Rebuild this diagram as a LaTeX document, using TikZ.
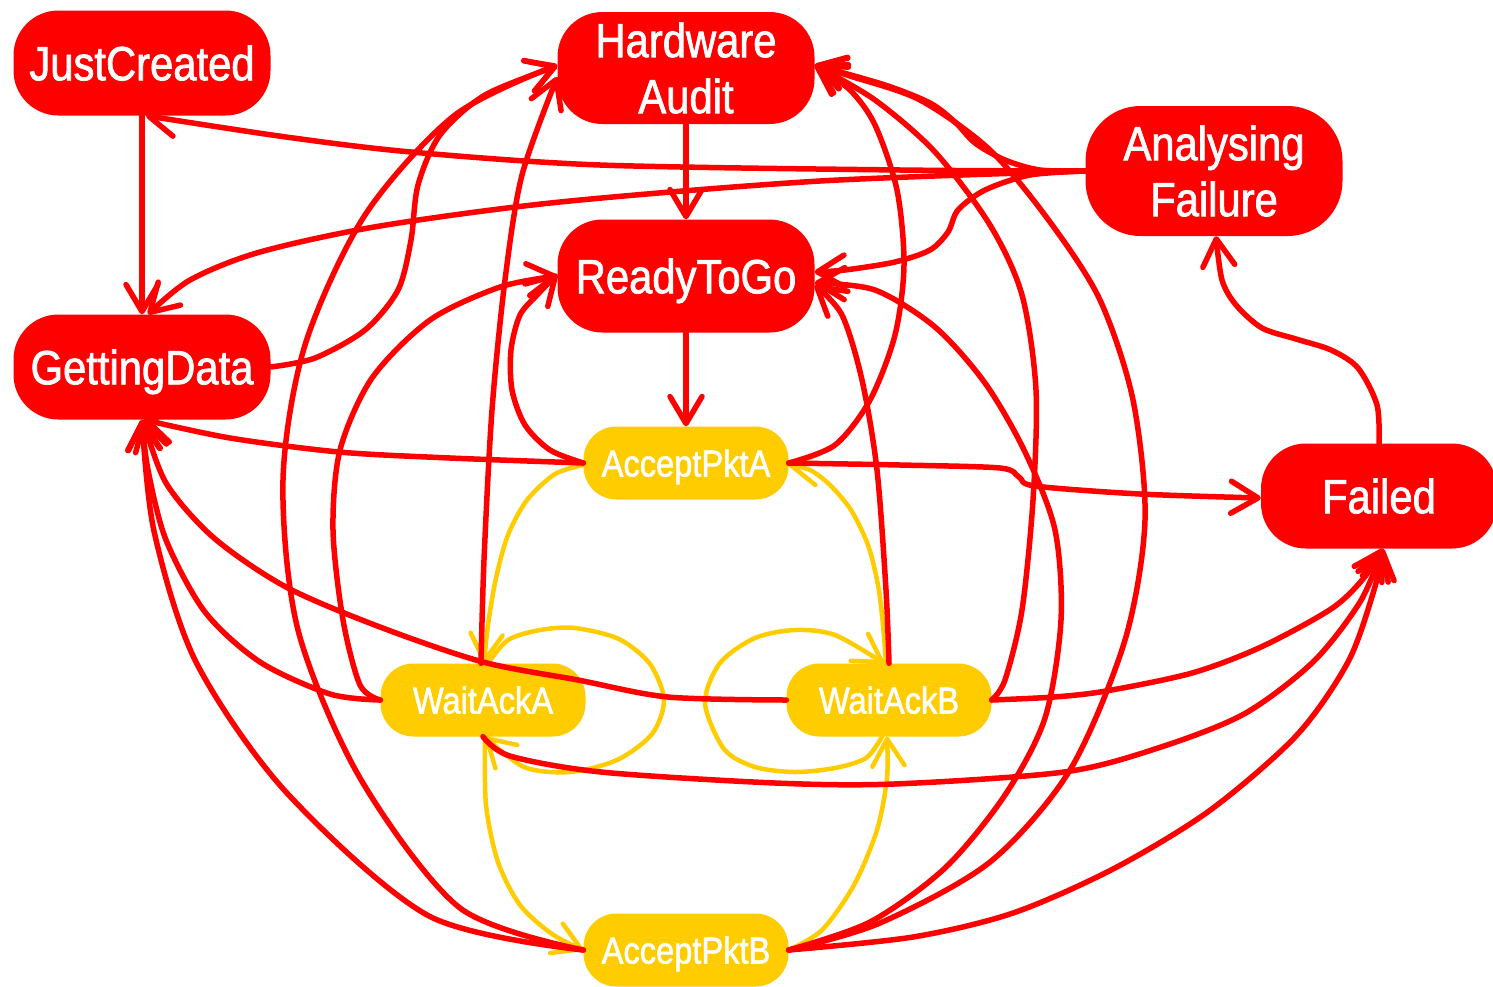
\documentclass[tikz,border=0pt]{standalone}
\usepackage{fontspec}
\usetikzlibrary{arrows.meta}
\newfontfamily\narrowfont{Liberation Sans}[FakeStretch=0.87, FakeBold=1.5]
\definecolor{myred}{RGB}{255,0,0}
\definecolor{myyellow}{RGB}{255,204,0}
\tikzset{
  rnode/.style={fill=myred, draw=none, text=white, rounded corners=45pt,
    minimum width=257pt, minimum height=105pt, inner sep=0pt,
    font=\narrowfont\fontsize{48}{56}\selectfont},
  ynode/.style={fill=myyellow, draw=none, text=white, rounded corners=33pt,
    minimum width=205pt, minimum height=73pt, inner sep=0pt,
    font=\narrowfont\fontsize{37.5}{44}\selectfont, text height=27pt, text depth=0pt},
  oneline/.style={text height=34.5pt, text depth=0pt},
  twoline/.style={align=center},
  redge/.style={draw=myred, line width=5.5pt, line cap=round,
    -{Straight Barb[length=27pt,width=32pt,round]}},
  yedge/.style={draw=myyellow, line width=4.5pt, line cap=round,
    -{Straight Barb[length=27pt,width=32pt,round]}},
}
\begin{document}
\begin{tikzpicture}[x=1pt,y=-1pt]
\useasboundingbox (0,0) rectangle (1493,986);
\fill[white] (0,0) rectangle (1493,986);
% nodes
\node[rnode, oneline] (JC) at (142,63) {JustCreated};
\node[rnode, twoline, minimum height=112pt] (HA) at (686,68) {Hardware\\Audit};
\node[rnode, twoline, minimum height=130pt, rounded corners=55pt] (AF) at (1214,171) {Analysing\\Failure};
\node[rnode, oneline, minimum height=113pt] (RTG) at (686,276) {ReadyToGo};
\node[rnode, oneline] (GD) at (142,367) {GettingData};
\node[rnode, oneline, minimum width=236pt] (F) at (1379,496) {Failed};
\node[ynode] (APA) at (686,463) {AcceptPktA};
\node[ynode] (WA) at (483,700) {WaitAckA};
\node[ynode] (WB) at (889,700) {WaitAckB};
\node[ynode] (APB) at (686,950) {AcceptPktB};
% yellow edges
\draw[yedge] plot[smooth] coordinates {([yshift=-2pt]APA.west) (555,474) (527,500) (508,535) (496,578) (488,625) ([xshift=1pt]WA.north)};
\draw[yedge] plot[smooth] coordinates {([xshift=5pt]WA.north) (508,640) (540,630) (575,628) (619,639) (650,664) (664,700) (652,734) (617,760) (570,772) (524,767) ([xshift=2pt]WA.south)};
\draw[yedge] plot[smooth] coordinates {([xshift=2pt]WA.south) (486,805) (498,862) (520,905) (552,934) (APB.west)};
\draw[yedge] plot[smooth] coordinates {(APB.east) (822,930) (854,885) (877,830) (887,778) ([xshift=-2pt]WB.south)};
\draw[yedge] plot[smooth] coordinates {([xshift=-7pt]WB.south) (866,758) (835,768) (795,772) (755,767) (724,749) (705,703) (720,663) (755,638) (795,630) (835,635) ([xshift=-5pt]WB.north)};
\draw[yedge] plot[smooth] coordinates {([xshift=-3pt]WB.north) (883,625) (878,585) (868,545) (851,510) (830,485) (810,470) ([yshift=-2pt]APA.east)};
% red edges
\draw[redge] (JC.south) -- (GD.north);
\draw[redge] (HA.south) -- (RTG.north);
\draw[redge] (RTG.south) -- (APA.north);
\draw[redge] plot[smooth] coordinates {(AF.west) (900,170) (600,165) (411,152) (286,137) ([xshift=4pt]JC.south)};
\draw[redge] plot[smooth] coordinates {(AF.west) (820,181) (560,202) (380,226) (260,252) (190,280) ([xshift=6pt]GD.north)};
\draw[redge] plot[smooth] coordinates {(AF.west) (1030,175) (985,190) (958,210) (948,232) (930,250) (895,262) (845,270) ([yshift=4pt]RTG.east)};
\draw[redge] plot[smooth] coordinates {(AF.west) (1040,170) (1005,160) (975,143) (955,122) (930,103) (885,85) ([yshift=3pt]HA.east)};
\draw[redge] plot[smooth] coordinates {(GD.east) (315,358) (365,330) (398,290) (411,240) (418,185) (440,135) (485,95) ([yshift=2pt]HA.west)};
\draw[redge] plot[smooth] coordinates {(APB.west) (460,908) (360,778) (298,630) (283,480) (305,345) (365,215) (455,115) ([yshift=3pt]HA.west)};
\draw[redge] plot[smooth] coordinates {([xshift=-2pt]WA.north) (484,560) (492,410) (505,280) (522,175) ([yshift=-9pt]HA.west)};
\draw[redge] plot[smooth] coordinates {(WA.west) (360,685) (343,620) (333,530) (340,450) (372,378) (430,320) (500,287) (RTG.west)};
\draw[redge] plot[smooth] coordinates {(WA.west) (330,694) (260,662) (205,612) (166,540) (148,470) (GD.south)};
\draw[redge] plot[smooth] coordinates {(WA.south) (510,756) (601,772) (775,783) (894,784) (1064,772) (1158,748) (1244,714) (1313,662) (1360,602) ([xshift=4pt]F.south)};
\draw[redge] plot[smooth] coordinates {(APA.west) (450,458) (339,452) (230,438) ([xshift=2pt]GD.south)};
\draw[redge] plot[smooth] coordinates {(APA.west) (550,450) (525,425) (512,390) (511,350) (520,315) (538,294) ([yshift=2pt]RTG.west)};
\draw[redge] plot[smooth] coordinates {(APA.east) (835,445) (870,400) (895,335) (904,265) (897,190) (875,125) (850,90) ([yshift=3pt]HA.east)};
\draw[redge] plot[smooth] coordinates {(APA.east) (900,465) (1000,468) (1019,477) (1035,486) (1140,494) ([yshift=-2pt]F.west)};
\draw[redge] plot[smooth] coordinates {(WB.west) (668,697) (578,680) (483,662) (380,627) (286,587) (214,538) (166,483) ([xshift=1pt]GD.south)};
\draw[redge] plot[smooth] coordinates {(WB.north) (886,590) (877,470) (862,380) (842,315) ([yshift=-9pt]RTG.east)};
\draw[redge] plot[smooth] coordinates {(WB.east) (1005,680) (1022,610) (1033,500) (1036,390) (1022,295) (990,225) (935,152) (875,100) ([yshift=3pt]HA.east)};
\draw[redge] plot[smooth] coordinates {(WB.east) (1054,697) (1106,691) (1192,673) (1261,647) (1331,609) (1363,579) ([xshift=4pt]F.south)};
\draw[redge] plot[smooth] coordinates {(APB.west) (429,916) (286,792) (196,662) (154,531) (GD.south)};
\draw[redge] plot[smooth] coordinates {(APB.east) (870,922) (945,868) (1005,795) (1045,718) (1061,620) (1055,530) (1025,452) (985,383) (935,327) (875,290) ([yshift=-7pt]RTG.east)};
\draw[redge] plot[smooth] coordinates {(APB.east) (880,923) (990,862) (1070,770) (1125,640) (1145,520) (1133,400) (1100,300) (1050,222) (990,150) (920,100) (850,76) ([yshift=3pt]HA.east)};
\draw[redge] plot[smooth] coordinates {(APB.east) (913,937) (1013,913) (1113,869) (1209,811) (1296,736) (1348,662) (1374,590) ([xshift=4pt]F.south)};
\draw[redge] plot[smooth] coordinates {(F.north) (1377,405) (1358,368) (1331,350) (1296,339) (1262,328) (1236,305) (1222,280) ([xshift=2pt]AF.south)};
\end{tikzpicture}
\end{document}
